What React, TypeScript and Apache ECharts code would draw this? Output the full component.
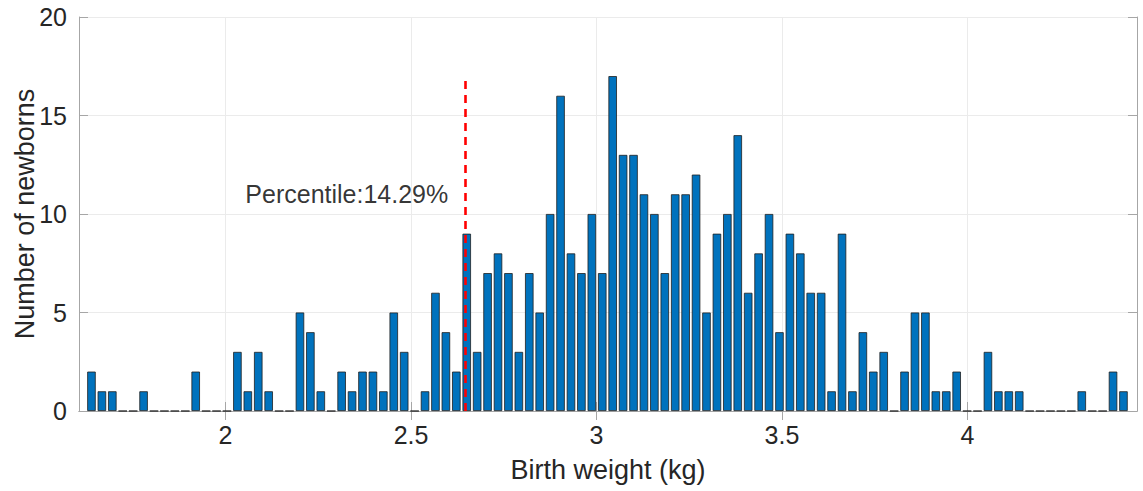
import { useEffect, useRef } from 'react';
import * as echarts from 'echarts';

// Histogram bins (kg): first bin centre and bin width
const binStart = 1.6386;
const binWidth = 0.0281;
// Number of newborns per bin
const counts = [
  2, 1, 1, 0, 0, 1, 0, 0, 0, 0,
  2, 0, 0, 0, 3, 1, 3, 1, 0, 0,
  5, 4, 1, 0, 2, 1, 2, 2, 1, 5,
  3, 0, 1, 6, 4, 2, 9, 3, 7, 8,
  7, 3, 7, 5, 10, 16, 8, 7, 10, 7,
  17, 13, 13, 11, 10, 7, 11, 11, 12, 5,
  9, 10, 14, 6, 8, 10, 4, 9, 8, 6,
  6, 1, 9, 1, 4, 2, 3, 0, 2, 5,
  5, 1, 1, 2, 0, 0, 3, 1, 1, 1,
  0, 0, 0, 0, 0, 1, 0, 0, 2, 1,
];
const xTicks = [2, 2.5, 3, 3.5, 4];
const xMin = 1.605;
const xMax = 4.457;
const yMin = 0;
const yMax = 20;
const yInterval = 5;
const percentileX = 2.646;
const percentileTop = 17;
const percentileText = 'Percentile:14.29%';
const percentileTextPos = [2.052, 11];

export default function App() {
  const ref = useRef<HTMLDivElement>(null);
  useEffect(() => {
    const chart = echarts.init(ref.current!, null, { renderer: 'svg' });
    const font = "'Liberation Sans', Arial, Helvetica, sans-serif";
    const axisColor = '#a6a6a6';
    const textColor = '#262626';
    const gridColor = '#ebebeb';
    const binCenters = counts.map((_, i) => binStart + i * binWidth);
    chart.setOption({
      animation: false,
      backgroundColor: '#ffffff',
      textStyle: { fontFamily: font },
      grid: { left: 79, top: 17, right: 6, bottom: 80, containLabel: false, outerBoundsMode: 'none' },
      xAxis: [
        {
          type: 'value',
          position: 'bottom',
          min: xMin,
          max: xMax,
          axisLine: { show: true, lineStyle: { color: axisColor, width: 1 } },
          axisTick: { show: true, inside: true, length: 9, customValues: xTicks, lineStyle: { color: axisColor } },
          axisLabel: { customValues: xTicks, fontSize: 25, color: textColor, margin: 11, fontFamily: font },
          splitLine: { show: true, lineStyle: { color: gridColor, width: 1 } },
          name: 'Birth weight (kg)',
          nameLocation: 'middle',
          nameGap: 45,
          nameMoveOverlap: false,
          nameTextStyle: { fontSize: 27, color: textColor, fontFamily: font },
        },
        {
          type: 'value',
          position: 'top',
          min: xMin,
          max: xMax,
          axisLine: { show: true, lineStyle: { color: axisColor, width: 1 } },
          axisTick: { show: true, inside: true, length: 9, customValues: xTicks, lineStyle: { color: axisColor } },
          axisLabel: { show: false },
          splitLine: { show: false },
        },
      ],
      yAxis: [
        {
          type: 'value',
          position: 'left',
          min: yMin,
          max: yMax,
          interval: yInterval,
          axisLine: { show: true, lineStyle: { color: axisColor, width: 1 } },
          axisTick: { show: true, inside: true, length: 9, lineStyle: { color: axisColor } },
          axisLabel: { fontSize: 25, color: textColor, margin: 12, fontFamily: font },
          splitLine: { show: true, lineStyle: { color: gridColor, width: 1 } },
          name: 'Number of newborns',
          nameLocation: 'middle',
          nameGap: 41,
          nameMoveOverlap: false,
          nameTextStyle: { fontSize: 27, color: textColor, fontFamily: font },
        },
        {
          type: 'value',
          position: 'right',
          min: yMin,
          max: yMax,
          interval: yInterval,
          axisLine: { show: true, lineStyle: { color: axisColor, width: 1 } },
          axisTick: { show: true, inside: true, length: 9, lineStyle: { color: axisColor } },
          axisLabel: { show: false },
          splitLine: { show: false },
        },
      ],
      series: [
        {
          type: 'bar',
          xAxisIndex: 0,
          yAxisIndex: 0,
          barWidth: 8.5,
          data: binCenters.map((x, i) => [x, counts[i]]),
          itemStyle: { color: '#0072BD', borderColor: '#1f1f1f', borderWidth: 0.8 },
          markLine: {
            silent: true,
            symbol: 'none',
            label: { show: false },
            lineStyle: { color: '#ff0000', type: [8, 6], width: 2.6 },
            data: [[{ coord: [percentileX, 0] }, { coord: [percentileX, percentileTop] }]],
          },
          z: 2,
        },
        {
          type: 'scatter',
          xAxisIndex: 0,
          yAxisIndex: 0,
          symbolSize: 1,
          itemStyle: { color: 'rgba(0,0,0,0)' },
          data: [percentileTextPos],
          label: {
            show: true,
            position: 'right',
            distance: 0,
            formatter: percentileText,
            fontSize: 25,
            color: '#000000',
            fontFamily: font,
          },
          z: 5,
        },
      ],
    });
    return () => chart.dispose();
  }, []);
  return (
    <div
      ref={ref}
      style={{ position: 'fixed', left: 0, top: 0, width: 1143, height: 491, background: '#ffffff' }}
    />
  );
}
